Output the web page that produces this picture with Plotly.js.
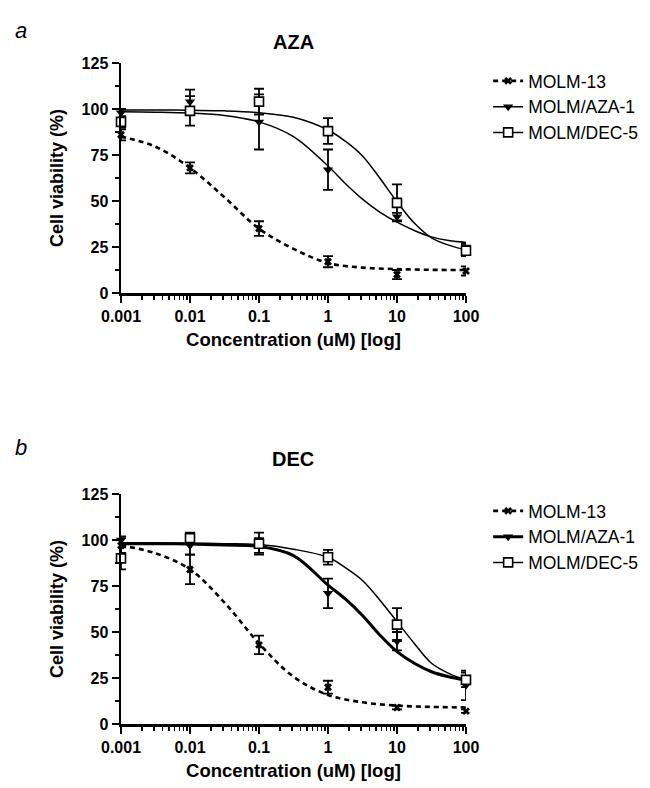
<!DOCTYPE html>
<html>
<head>
<meta charset="utf-8">
<script src="https://cdn.plot.ly/plotly-3.0.1.min.js"></script>
<style>html,body{margin:0;padding:0;background:#fff;}#chart{width:650px;height:788px;}</style>
</head>
<body>
<div id="chart"></div>
<script>
// ---------- data ----------
var seriesNames = ['MOLM-13', 'MOLM/AZA-1', 'MOLM/DEC-5'];
var concentrations = [0.001, 0.01, 0.1, 1, 10, 100];
var tickLabelsX = ['0.001', '0.01', '0.1', '1', '10', '100'];
var tickValsY = [0, 25, 50, 75, 100, 125];

// Panel a: AZA
var azaMolm13 = [86, 68, 35, 17, 10, 12];
var azaMolm13Err = [3, 3, 4, 3, 2.5, 2.5];
var azaAza1 = [98, 104, 93, 67, 41.5, 25];
var azaAza1Err = [2, 6.5, 15, 11, 2, 2];
var azaDec5 = [93, 99, 104, 88, 49, 23];
var azaDec5Err = [3, 8, 7, 7, 10, 3];

// Panel b: DEC
var decMolm13 = [97, 84, 43, 20, 9, 7];
var decMolm13Err = [4, 8, 5, 3.5, 1, 1];
var decAza1 = [100, 97, 97, 71, 45, 21];
var decAza1Err = [2, 5, 4, 8, 5, 8];
var decDec5 = [90, 101, 98, 90.6, 54, 24];
var decDec5Err = [6, 3, 6, 4, 9, 4];

// fitted curves
var curveXHalf = [0.001, 0.00316, 0.01, 0.0316, 0.1, 0.316, 1, 3.16, 10, 31.6, 100];
var curveXFine = [0.001, 0.00316, 0.01, 0.0316, 0.1, 0.316, 1, 1.78, 3.16, 5.62, 10, 17.8, 31.6, 56.2, 100];
var azaMolm13Curve = [85, 79.5, 68, 52, 35, 24, 16.3, 13.8, 13, 12.6, 12.5];
var azaAza1Curve = [98.5, 98.3, 97.8, 96.5, 93, 85, 69, 59.5, 51, 44, 38.5, 34, 30.5, 28.5, 27.5];
var azaDec5Curve = [99.5, 99.5, 99.3, 99, 98, 95.5, 88.6, 82.5, 74.5, 62.5, 49.6, 38, 30, 26, 23.4];
var decMolm13Curve = [97, 92.8, 84, 66, 43.8, 25.7, 15.8, 11.8, 10, 9.3, 9];
var decAza1Curve = [98, 98, 97.8, 97.3, 96.5, 91.5, 75.5, 68, 59, 48.4, 39.3, 33, 28.4, 25.7, 23.9];
var decDec5Curve = [98.5, 98.5, 98.3, 98, 97.5, 95, 90.6, 85, 78, 67.4, 55.6, 43.8, 33, 27.5, 24];

// ---------- styles ----------
var FONT = 'Liberation Sans, Arial, Helvetica, sans-serif';
var markerStyles = [
  {symbol: 'x', size: 7, color: 'black'},
  {symbol: 'triangle-down', size: 9, color: 'black'},
  {symbol: 'square', size: 9, color: 'white', line: {color: 'black', width: 1.6}}
];

function gapped(arr) { // isolate points so no connecting line is drawn
  var out = [];
  arr.forEach(function (v) { out.push(v, null); });
  return out;
}

function panelTraces(suffix, legendId, vals, errs, curves, curveXs, lines) {
  var xa = 'x' + suffix, ya = 'y' + suffix;
  var traces = [];
  for (var i = 0; i < 3; i++) {
    traces.push({
      x: curveXs[i], y: curves[i], xaxis: xa, yaxis: ya,
      mode: 'lines', line: Object.assign({shape: 'spline', smoothing: 1, color: 'black'}, lines[i]),
      showlegend: false, hoverinfo: 'skip', cliponaxis: false
    });
  }
  for (var j = 0; j < 3; j++) {
    traces.push({
      x: gapped(concentrations), y: gapped(vals[j]), xaxis: xa, yaxis: ya,
      name: seriesNames[j], legend: legendId,
      mode: 'lines+markers', connectgaps: false,
      line: Object.assign({color: 'black'}, lines[j]),
      marker: markerStyles[j],
      error_y: {type: 'data', array: gapped(errs[j]), visible: true, color: 'black', thickness: 1.8, width: 5},
      cliponaxis: false
    });
  }
  return traces;
}

var linesA = [{width: 2.6, dash: '5px,4px'}, {width: 1.5}, {width: 1.5}];
var linesB = [{width: 2.6, dash: '5px,4px'}, {width: 3}, {width: 1.5}];

var data = []
  .concat(panelTraces('', 'legend', [azaMolm13, azaAza1, azaDec5], [azaMolm13Err, azaAza1Err, azaDec5Err],
    [azaMolm13Curve, azaAza1Curve, azaDec5Curve], [curveXHalf, curveXFine, curveXFine], linesA))
  .concat(panelTraces('2', 'legend2', [decMolm13, decAza1, decDec5], [decMolm13Err, decAza1Err, decDec5Err],
    [decMolm13Curve, decAza1Curve, decDec5Curve], [curveXHalf, curveXFine, curveXFine], linesB));

function xAxis(anchor) {
  return {
    type: 'log', range: [-3, 2], anchor: anchor, domain: [121 / 650, 466 / 650],
    tickmode: 'array', tickvals: concentrations, ticktext: tickLabelsX,
    ticks: 'outside', ticklen: 7, tickwidth: 2, tickcolor: 'black',
    showline: true, linewidth: 2.5, linecolor: 'black', showgrid: false, zeroline: false,
    tickfont: {family: FONT, size: 16, weight: 'bold', color: 'black'},
    minor: {ticks: 'outside', ticklen: 4, tickwidth: 1.5, tickcolor: 'black', dtick: 'D1', showgrid: false},
    title: {text: 'Concentration (uM) [log]', font: {family: FONT, size: 18.5, weight: 'bold', color: 'black'}, standoff: 10},
    automargin: false, fixedrange: true
  };
}
function yAxis(anchor, top, bottom) {
  return {
    range: [0, 125], anchor: anchor, domain: [1 - bottom / 788, 1 - top / 788],
    tickmode: 'array', tickvals: tickValsY,
    ticks: 'outside', ticklen: 7, tickwidth: 2, tickcolor: 'black',
    showline: true, linewidth: 2.5, linecolor: 'black', showgrid: false, zeroline: false,
    tickfont: {family: FONT, size: 16, weight: 'bold', color: 'black'},
    minor: {ticks: 'outside', ticklen: 4, tickwidth: 1.5, tickcolor: 'black', tick0: 0, dtick: 12.5, showgrid: false},
    title: {text: 'Cell viability (%)', font: {family: FONT, size: 18, weight: 'bold', color: 'black'}, standoff: 14},
    automargin: false, fixedrange: true
  };
}

function legendAt(topPx) {
  return {
    x: 0.751, y: 1 - topPx / 788, xref: 'paper', yref: 'paper',
    xanchor: 'left', yanchor: 'top', bgcolor: 'rgba(0,0,0,0)', borderwidth: 0,
    font: {family: FONT, size: 17.5, color: 'black'}, tracegroupgap: 0, itemclick: false
  };
}

var layout = {
  width: 650, height: 788,
  margin: {l: 0, r: 0, t: 0, b: 0},
  paper_bgcolor: 'white', plot_bgcolor: 'white',
  font: {family: FONT, color: 'black'},
  showlegend: true,
  xaxis: xAxis('y'),
  yaxis: yAxis('x', 63, 293),
  xaxis2: xAxis('y2'),
  yaxis2: yAxis('x2', 494, 724),
  legend: legendAt(63),
  legend2: legendAt(493),
  annotations: [
    {text: 'a', x: 13 / 650, y: 1 - 16 / 788, xref: 'paper', yref: 'paper', showarrow: false,
     font: {family: FONT, size: 22, style: 'italic', color: 'black'}},
    {text: 'b', x: 13 / 650, y: 1 - 447 / 788, xref: 'paper', yref: 'paper', showarrow: false,
     font: {family: FONT, size: 22, style: 'italic', color: 'black'}},
    {text: 'AZA', x: 293 / 650, y: 1 - 29 / 788, xref: 'paper', yref: 'paper', showarrow: false,
     font: {family: FONT, size: 20, weight: 'bold', color: 'black'}},
    {text: 'DEC', x: 293 / 650, y: 1 - 459 / 788, xref: 'paper', yref: 'paper', showarrow: false,
     font: {family: FONT, size: 20, weight: 'bold', color: 'black'}}
  ]
};

Plotly.newPlot('chart', data, layout, {staticPlot: true, displayModeBar: false});
</script>
</body>
</html>
